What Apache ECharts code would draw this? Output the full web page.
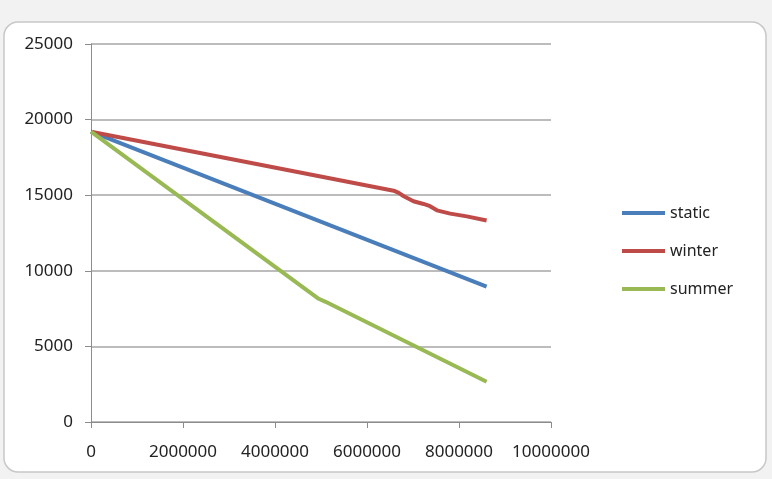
<!DOCTYPE html>
<html>
<head>
<meta charset="utf-8">
<script src="https://cdn.jsdelivr.net/npm/echarts@6/dist/echarts.min.js"></script>
<style>
  html, body { margin: 0; padding: 0; background: #f2f2f2; }
  #main { width: 772px; height: 479px; }
</style>
</head>
<body>
<div id="main"></div>
<script>
// 数据
var xTicks = [0, 2000000, 4000000, 6000000, 8000000, 10000000];
var yTicks = [0, 5000, 10000, 15000, 20000, 25000];

var staticData = [
    [0, 19200],
    [8600000, 8950]
];

var winterData = [
    [0, 19200],
    [6580000, 15300],
    [6690000, 15150],
    [6800000, 14930],
    [7010000, 14600],
    [7230000, 14420],
    [7370000, 14270],
    [7520000, 14000],
    [7810000, 13780],
    [8170000, 13600],
    [8600000, 13330]
];

var summerData = [
    [0, 19200],
    [4950000, 8150],
    [5100000, 7950],
    [8600000, 2660]
];

var myChart = echarts.init(document.getElementById('main'));

var font = '"Noto Sans", "DejaVu Sans", sans-serif';

var option = {
    backgroundColor: '#f2f2f2',
    animation: false,
    graphic: [
        {
            type: 'rect',
            shape: { x: 4, y: 22, width: 762, height: 450, r: 14 },
            style: { fill: '#ffffff', stroke: '#c8c8c8', lineWidth: 1.5 },
            z: -10
        }
    ],
    grid: {
        left: 91,
        right: 221,
        top: 44,
        bottom: 57
    },
    legend: {
        orient: 'vertical',
        left: 617,
        top: 196,
        icon: 'rect',
        itemWidth: 43,
        itemHeight: 4,
        itemGap: 14,
        textStyle: { fontFamily: font, fontSize: 16, color: '#222', lineHeight: 24 },
        data: ['static', 'winter', 'summer']
    },
    xAxis: {
        type: 'value',
        min: 0,
        max: 10000000,
        interval: 2000000,
        axisLine: { show: true, lineStyle: { color: '#8c8c8c', width: 1 } },
        axisTick: { show: true, length: 6, inside: false, lineStyle: { color: '#8c8c8c' } },
        axisLabel: {
            margin: 22,
            fontFamily: font,
            fontSize: 17,
            color: '#222',
            formatter: function (v) { return xTicks.indexOf(v) >= 0 ? String(v) : ''; }
        },
        splitLine: { show: false }
    },
    yAxis: {
        type: 'value',
        min: 0,
        max: 25000,
        interval: 5000,
        axisLine: { show: true, lineStyle: { color: '#8c8c8c', width: 1 } },
        axisTick: { show: true, length: 6, inside: false, lineStyle: { color: '#8c8c8c' } },
        axisLabel: {
            margin: 18,
            fontFamily: font,
            fontSize: 17,
            color: '#222',
            formatter: function (v) { return yTicks.indexOf(v) >= 0 ? String(v) : ''; }
        },
        splitLine: { show: true, lineStyle: { color: '#a6a6a6', width: 1.5 } }
    },
    series: [
        {
            name: 'static',
            type: 'line',
            data: staticData,
            showSymbol: false,
            symbol: 'none',
            color: '#4a7ebb',
            lineStyle: { width: 4, color: '#4a7ebb' }
        },
        {
            name: 'winter',
            type: 'line',
            data: winterData,
            showSymbol: false,
            symbol: 'none',
            color: '#be4b48',
            lineStyle: { width: 4, color: '#be4b48' }
        },
        {
            name: 'summer',
            type: 'line',
            data: summerData,
            showSymbol: false,
            symbol: 'none',
            color: '#98b954',
            lineStyle: { width: 4, color: '#98b954' }
        }
    ]
};

myChart.setOption(option);
</script>
</body>
</html>
